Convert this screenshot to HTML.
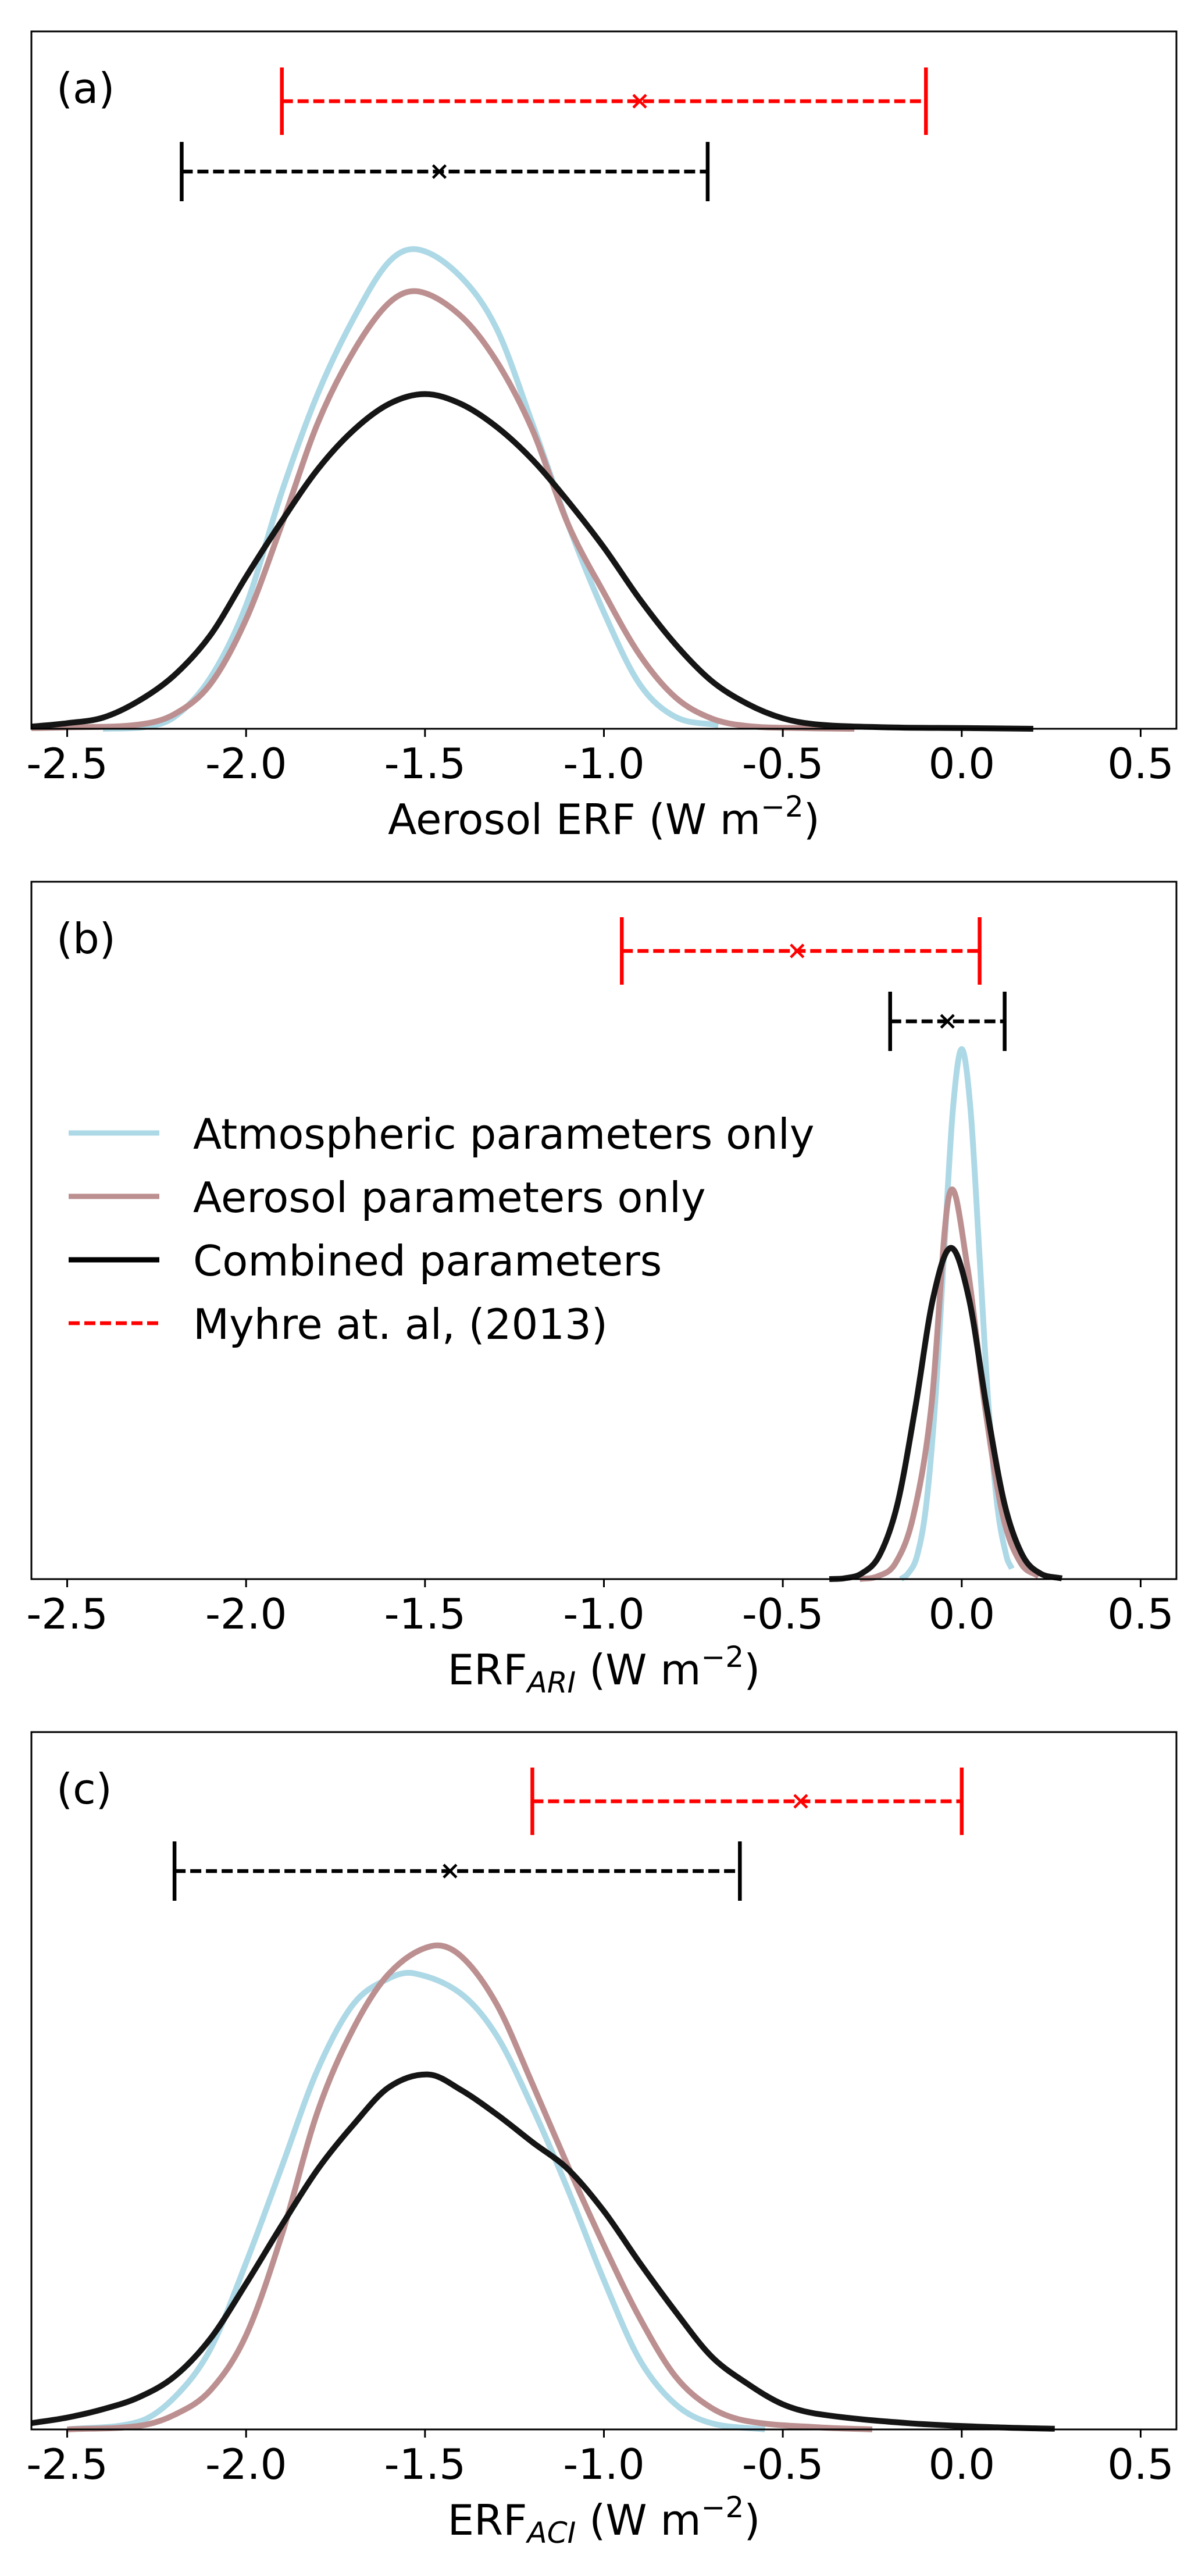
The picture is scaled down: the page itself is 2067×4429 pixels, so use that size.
<!DOCTYPE html>
<html><head><meta charset="utf-8"><style>
html,body{margin:0;padding:0;background:#fff;}
svg{display:block;font-family:"DejaVu Sans","Liberation Sans",sans-serif;}
</style></head>
<body>
<svg id="fig" width="2067" height="4429" viewBox="0 0 2067 4429" xmlns="http://www.w3.org/2000/svg"></svg>
<script>
// ---------- data ----------
const xTicks = [-2.5, -2.0, -1.5, -1.0, -0.5, 0.0, 0.5];
const xTickLabels = ["-2.5", "-2.0", "-1.5", "-1.0", "-0.5", "0.0", "0.5"];
const seriesNames = ["Atmospheric parameters only", "Aerosol parameters only", "Combined parameters", "Myhre at. al, (2013)"];

// Panel (a)
const aBlueX = [-2.4,-2.29,-2.2,-2.1,-2.0,-1.9,-1.8,-1.7,-1.6,-1.517,-1.4,-1.3,-1.2,-1.1,-1.0,-0.9,-0.8,-0.68];
const aBlueY = [0.0,0.002,0.017,0.073,0.177,0.34,0.48,0.588,0.67,0.687,0.648,0.574,0.438,0.293,0.167,0.064,0.017,0.005];
const aBrownX = [-2.6,-2.5,-2.3,-2.2,-2.1,-2.0,-1.9,-1.8,-1.7,-1.6,-1.517,-1.4,-1.3,-1.2,-1.1,-1.0,-0.9,-0.8,-0.7,-0.6,-0.45,-0.3];
const aBrownY = [0.001,0.002,0.006,0.021,0.064,0.157,0.293,0.438,0.541,0.611,0.627,0.592,0.527,0.429,0.293,0.195,0.106,0.045,0.015,0.004,0.001,0.0];
const aBlackX = [-2.6,-2.5,-2.4,-2.3,-2.2,-2.1,-2.0,-1.9,-1.8,-1.7,-1.6,-1.5,-1.4,-1.3,-1.2,-1.1,-1.0,-0.9,-0.8,-0.7,-0.6,-0.5,-0.4,-0.2,0.0,0.2];
const aBlackY = [0.003,0.008,0.016,0.04,0.077,0.134,0.218,0.298,0.372,0.428,0.466,0.48,0.466,0.433,0.386,0.326,0.26,0.186,0.121,0.069,0.036,0.015,0.006,0.002,0.001,0.0];
const aRange = {red:[-1.9,-0.9,-0.1], black:[-2.18,-1.46,-0.71]};

// Panel (b)
const bBlueX = [-0.17,-0.15,-0.125,-0.1,-0.075,-0.05,-0.025,0.0,0.025,0.05,0.075,0.1,0.125,0.14];
const bBlueY = [0.0,0.008,0.033,0.103,0.247,0.461,0.671,0.76,0.671,0.461,0.247,0.103,0.033,0.015];
const bBrownX = [-0.285,-0.235,-0.185,-0.135,-0.085,-0.035,0.015,0.065,0.115,0.165,0.215];
const bBrownY = [0.0,0.004,0.023,0.091,0.247,0.551,0.451,0.247,0.091,0.023,0.004];
const bBlackX = [-0.37,-0.33,-0.28,-0.23,-0.18,-0.13,-0.08,-0.03,0.02,0.07,0.12,0.17,0.22,0.28];
const bBlackY = [0.0,0.001,0.008,0.034,0.107,0.245,0.403,0.475,0.403,0.245,0.107,0.034,0.008,0.001];
const bRange = {red:[-0.95,-0.46,0.05], black:[-0.2,-0.04,0.12]};

// Panel (c)
const cBlueX = [-2.5,-2.3,-2.2,-2.1,-2.0,-1.9,-1.8,-1.7,-1.6,-1.53,-1.4,-1.3,-1.2,-1.1,-1.0,-0.9,-0.8,-0.7,-0.55];
const cBlueY = [0.0,0.011,0.046,0.115,0.239,0.377,0.516,0.61,0.647,0.654,0.625,0.565,0.462,0.343,0.214,0.1,0.036,0.009,0.0];
const cBrownX = [-2.5,-2.3,-2.2,-2.1,-2.0,-1.9,-1.8,-1.7,-1.6,-1.483,-1.4,-1.3,-1.2,-1.1,-1.0,-0.9,-0.8,-0.7,-0.6,-0.4,-0.25];
const cBrownY = [0.0,0.005,0.021,0.056,0.135,0.279,0.456,0.575,0.654,0.693,0.679,0.61,0.496,0.377,0.264,0.16,0.076,0.031,0.012,0.003,0.0];
const cBlackX = [-2.6,-2.5,-2.4,-2.3,-2.2,-2.1,-2.0,-1.9,-1.8,-1.7,-1.6,-1.49,-1.4,-1.3,-1.2,-1.1,-1.0,-0.9,-0.8,-0.7,-0.6,-0.5,-0.4,-0.15,0.1,0.26];
const cBlackY = [0.009,0.017,0.029,0.046,0.076,0.13,0.209,0.293,0.373,0.437,0.491,0.509,0.487,0.452,0.412,0.373,0.313,0.239,0.169,0.105,0.066,0.036,0.022,0.009,0.003,0.001];
const cRange = {red:[-1.2,-0.45,0.0], black:[-2.2,-1.43,-0.62]};

// ---------- drawing ----------
const NS = "http://www.w3.org/2000/svg";
const svg = document.getElementById("fig");
const L = 54, R = 2023, H = 1199;
const X0 = -2.6, X1 = 0.6;
function sx(v){ return L + (v - X0) / (X1 - X0) * (R - L); }
function mk(tag, attrs, parent){
  const e = document.createElementNS(NS, tag);
  for (const k in attrs) e.setAttribute(k, attrs[k]);
  (parent || svg).appendChild(e);
  return e;
}
// cubic Hermite with finite-difference (non-uniform Catmull-Rom) tangents
function smoothPath(xs, ys, syf){
  const n = xs.length, px = xs.map(sx), py = ys.map(syf), base = syf(0);
  const m = new Array(n);
  for (let i=0;i<n;i++){
    const a = Math.max(0,i-1), b = Math.min(n-1,i+1);
    m[i] = (py[b]-py[a])/(px[b]-px[a]);
  }
  let s = "M"+px[0].toFixed(1)+","+py[0].toFixed(1);
  for (let i=0;i<n-1;i++){
    const h = px[i+1]-px[i];
    const c1y = Math.min(base, py[i]+m[i]*h/3), c2y = Math.min(base, py[i+1]-m[i+1]*h/3);
    s += " C"+(px[i]+h/3).toFixed(1)+","+c1y.toFixed(1)+" "+(px[i+1]-h/3).toFixed(1)+","+c2y.toFixed(1)+" "+px[i+1].toFixed(1)+","+py[i+1].toFixed(1);
  }
  return s;
}

function panel(id, top, curves, ranges, label, xlabelParts, barY, legend){
  const g = mk("g", {});
  
  
  const bottom = top + H;
  const syf = v => bottom - v * H;
  const cols = ["#add8e6", "#bc9090", "#151515"];
  const names = ["curve-atmospheric", "curve-aerosol", "curve-combined"];
  curves.forEach((c, i) => {
    const path = mk("path", {d: smoothPath(c[0], c[1], syf), fill:"none", stroke:cols[i], "stroke-width":10, "stroke-linejoin":"round"}, g);
    
    
  });
  [["red","#ff0000",barY[0],58],["black","#000000",barY[1],51]].forEach(([k,col,y,cap]) => {
    const r = ranges[k];
    const bg = mk("g", {}, g);
    
    
    mk("line", {x1:sx(r[0]), x2:sx(r[2]), y1:y, y2:y, stroke:col, "stroke-width":6.5, "stroke-dasharray":"19,8"}, bg);
    mk("line", {x1:sx(r[0]), x2:sx(r[0]), y1:y-cap, y2:y+cap, stroke:col, "stroke-width":6.5}, bg);
    mk("line", {x1:sx(r[2]), x2:sx(r[2]), y1:y-cap, y2:y+cap, stroke:col, "stroke-width":6.5}, bg);
    const m = sx(r[1]);
    mk("path", {d:`M${m-11},${y-11} L${m+11},${y+11} M${m-11},${y+11} L${m+11},${y-11}`, stroke:col, "stroke-width":4.5}, bg);
  });
  const fr = mk("rect", {x:L, y:top, width:R-L, height:H, fill:"none", stroke:"#000", "stroke-width":3}, g);
  
  
  xTicks.forEach((t, i) => {
    const x = sx(t);
    mk("line", {x1:x, x2:x, y1:bottom, y2:bottom+14, stroke:"#000", "stroke-width":3}, g);
    const tx = mk("text", {x:x, y:bottom+85, "font-size":72, "text-anchor":"middle"}, g);
    tx.textContent = xTickLabels[i];
    
    
  });
  const pl = mk("text", {x:97, y:top+123, "font-size":72}, g);
  pl.textContent = label;
  
  
  const xl = mk("text", {x:(L+R)/2, y:bottom+181, "font-size":72, "text-anchor":"middle"}, g);
  
  
  xlabelParts.forEach(p => {
    const ts = mk("tspan", {}, xl);
    ts.textContent = p[0];
    if (p[1] === "sub"){ ts.setAttribute("font-size", 50); ts.setAttribute("font-style","italic"); ts.setAttribute("dy", 14); }
    if (p[1] === "subend"){ ts.setAttribute("dy", -14); }
    if (p[1] === "sup"){ ts.setAttribute("font-size", 50); ts.setAttribute("dy", -30); }
    if (p[1] === "supend"){ ts.setAttribute("dy", 30); }
  });
  if (legend){
    const lg = mk("g", {}, g);
    
    
    const lc = ["#add8e6","#bc9090","#000000","#ff0000"];
    seriesNames.forEach((n, i) => {
      const y = top + 432 + i * 109;
      const eg = mk("g", {}, lg);
      
      
      const at = {x1:118, x2:274, y1:y, y2:y, stroke:lc[i], "stroke-width": i===3 ? 6.5 : 9};
      if (i===3) at["stroke-dasharray"] = "19,8";
      mk("line", at, eg);
      const t = mk("text", {x:332, y:y+27, "font-size":72}, eg);
      t.textContent = n;
    });
  }
}

panel("a", 54, [[aBlueX,aBlueY],[aBrownX,aBrownY],[aBlackX,aBlackY]], aRange, "(a)",
  [["Aerosol ERF (W m"],["−2","sup"],[")","supend"]], [174, 295], false);
panel("b", 1516, [[bBlueX,bBlueY],[bBrownX,bBrownY],[bBlackX,bBlackY]], bRange, "(b)",
  [["ERF"],["ARI","sub"],[" (W m","subend"],["−2","sup"],[")","supend"]], [1635, 1756], true);
panel("c", 2978, [[cBlueX,cBlueY],[cBrownX,cBrownY],[cBlackX,cBlackY]], cRange, "(c)",
  [["ERF"],["ACI","sub"],[" (W m","subend"],["−2","sup"],[")","supend"]], [3097, 3217], false);
</script>
</body></html>
